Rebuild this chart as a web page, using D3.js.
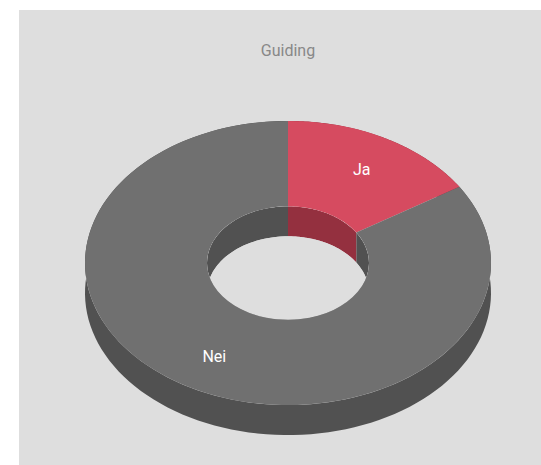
<!DOCTYPE html>
<html>
<head>
<meta charset="utf-8">
<script src="https://cdn.jsdelivr.net/npm/d3@7"></script>
<style>
html, body { margin: 0; padding: 0; background: #fff; overflow: hidden; }
svg { display: block; }
text { font-family: Roboto, sans-serif; }
</style>
</head>
<body>
<svg id="chart"></svg>
<script>
const title = "Guiding";
const categories = ["Ja", "Nei"];
const values = [16, 84];
const topColors = ["#d64b60", "#707070"];
const sideColors = ["#94303f", "#515151"];

const width = 541, height = 465;
const cx = 288, cy = 263;
const outerR = 203, innerR = 81, labelR = 153;
const tilt = 0.7, depth = 30;
const bg = "#dedede";

const svg = d3.select("svg#chart").attr("width", width).attr("height", height);
svg.append("rect").attr("x", 19).attr("y", 10)
	.attr("width", width - 19).attr("height", height - 10).attr("fill", bg);

const slices = d3.pie().sort(null)(values);
const arc = d3.arc().innerRadius(innerR).outerRadius(outerR);
const labelArc = d3.arc().innerRadius(labelR).outerRadius(labelR);

// wall of one slice: the arc edge and the same edge pushed down by depth
const wall = (s, r) => {
	const step = (s.endAngle - s.startAngle) / 120;
	const angles = d3.range(s.startAngle, s.endAngle + step / 2, step);
	return d3.area()
		.x(a => r * Math.sin(a))
		.y0(a => -r * Math.cos(a) * tilt)
		.y1(a => -r * Math.cos(a) * tilt + depth)(angles);
};

const root = svg.append("g").attr("transform", `translate(${cx},${cy})`);

svg.append("defs").append("clipPath").attr("id", "hole")
	.append("ellipse").attr("rx", innerR).attr("ry", innerR * tilt);

// outer wall
root.append("g").selectAll("path").data(slices).join("path")
	.attr("d", d => wall(d, outerR))
	.attr("fill", (d, i) => sideColors[i]);

// inner wall, only seen through the hole, then the background under the hole
const hole = root.append("g").attr("clip-path", "url(#hole)");
hole.selectAll("path").data(slices).join("path")
	.attr("d", d => wall(d, innerR))
	.attr("fill", (d, i) => sideColors[i]);
hole.append("ellipse").attr("cy", depth)
	.attr("rx", innerR).attr("ry", innerR * tilt).attr("fill", bg);

// top face
root.append("g").attr("transform", `scale(1,${tilt})`)
	.selectAll("path").data(slices).join("path")
	.attr("d", arc)
	.attr("fill", (d, i) => topColors[i]);

root.append("g").selectAll("text").data(slices).join("text")
	.attr("x", d => labelArc.centroid(d)[0])
	.attr("y", d => labelArc.centroid(d)[1] * tilt)
	.attr("dy", "0.35em")
	.attr("text-anchor", "middle")
	.attr("font-size", 16)
	.attr("fill", "#fff")
	.text((d, i) => categories[i]);

svg.append("text").attr("x", 288).attr("y", 56)
	.attr("text-anchor", "middle")
	.attr("font-size", 16)
	.attr("fill", "#888888")
	.text(title);
</script>
</body>
</html>
